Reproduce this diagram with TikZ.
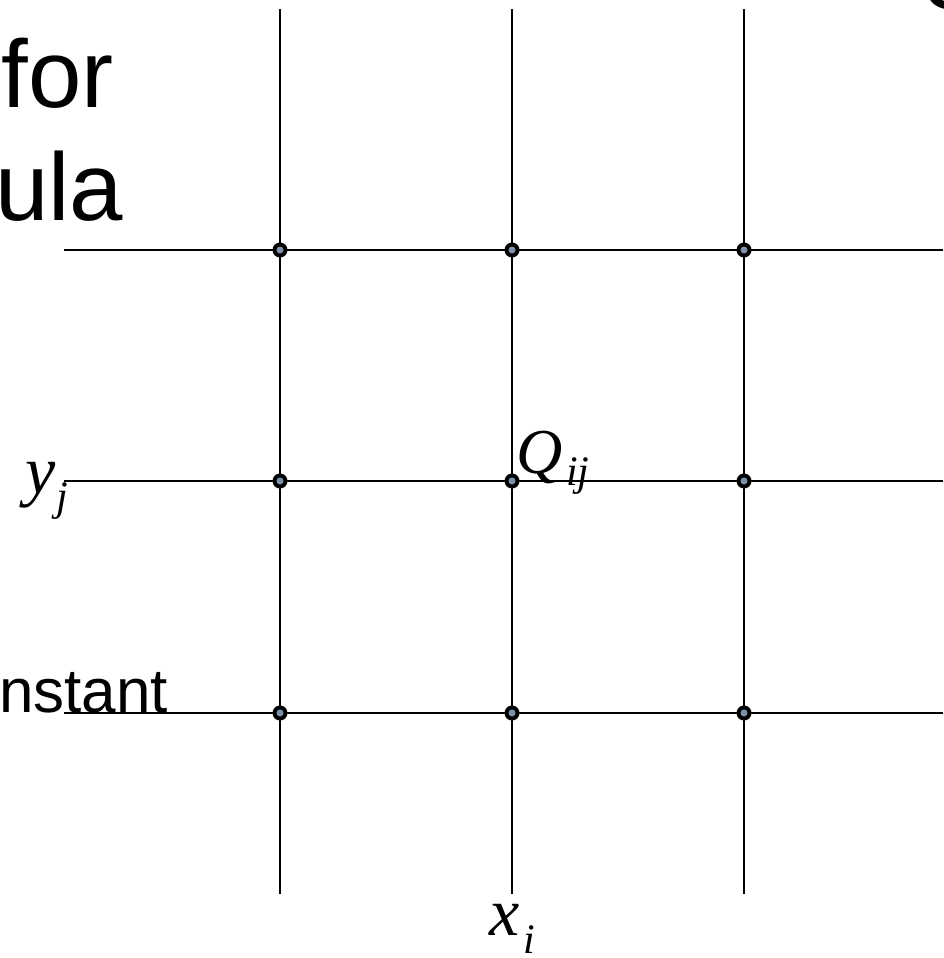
\documentclass[tikz,border=0pt]{standalone}
\usepackage{fontspec}
\setmainfont{Liberation Sans}
\newfontfamily\lblfont{Liberation Serif}
\definecolor{dotfill}{RGB}{125,145,170}
\begin{document}
\begin{tikzpicture}[x=1pt,y=-1pt,
  gridline/.style={line width=2pt,black},
  txt/.style={anchor=base west,inner sep=0pt,outer sep=0pt},
  bigtxt/.style={txt,font=\fontsize{96}{96}\selectfont},
  midtxt/.style={txt,font=\fontsize{62}{62}\selectfont},
  lbl/.style={txt,font=\lblfont\itshape\fontsize{64}{64}\selectfont},
  axlbl/.style={txt,font=\lblfont\itshape\fontsize{68}{68}\selectfont},
  sublbl/.style={txt,font=\lblfont\itshape\fontsize{42}{42}\selectfont},
  gridpt/.style={circle,fill=black,minimum size=15pt,inner sep=0pt}]
\useasboundingbox (0,0) rectangle (943,958);
\clip (0,0) rectangle (943,958);
% text fragments
\node[bigtxt] (t1) at (1.5,107) {for};
\node[bigtxt] (t2) at (-5,220) {ula};
\node[midtxt] (t3) at (-1,712) {nstant};
\node[bigtxt] (t4) at (923,10) {S};
% grid coordinates
\foreach \c/\x in {a/280,b/512,c/744}{
  \coordinate (top\c) at (\x,9);
  \coordinate (bot\c) at (\x,894);
}
\foreach \r/\y in {1/250,2/481,3/713}{
  \coordinate (left\r) at (64,\y);
  \coordinate (right\r) at (943,\y);
}
\foreach \c in {a,b,c}{\draw[gridline] (top\c) -- (bot\c);}
\foreach \r in {1,2,3}{\draw[gridline] (left\r) -- (right\r);}
% dots
\foreach \c/\x in {a/280,b/512,c/744}{
  \foreach \r/\y in {1/250,2/481,3/713}{
    \node[gridpt] (d\c\r) at (\x,\y) {};
    \fill[dotfill] (d\c\r.center) circle (3.5pt);
  }
}
% labels
\node[lbl] (Q) at (516,473) {Q};
\node[sublbl] (Qs) at (566,485) {ij};
\node[axlbl] (Y) at (25,493) {y};
\node[sublbl] (Ys) at (56,510) {j};
\node[axlbl] (X) at (489,935) {x};
\node[sublbl] (Xs) at (523,953) {i};
\end{tikzpicture}
\end{document}
